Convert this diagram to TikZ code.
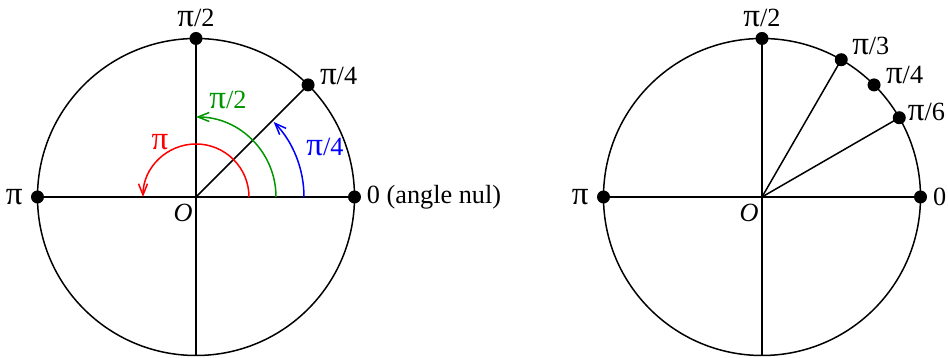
\documentclass[tikz,border=0pt]{standalone}
\usepackage{fontspec}
\setmainfont{Liberation Serif}
\usetikzlibrary{arrows.meta, positioning}
\definecolor{turnRed}{RGB}{255,0,0}
\definecolor{turnGreen}{RGB}{0,150,0}
\definecolor{turnBlue}{RGB}{0,0,255}
\newcommand{\gpi}{{\fontsize{13.2}{12}\selectfont π}}

\begin{document}
\begin{tikzpicture}[
    x=0.4pt, y=0.4pt,
    font=\fontsize{10.5}{12}\selectfont,
    dot/.style={circle, fill=black, minimum size=5.2pt, inner sep=0pt},
    axis/.style={line width=0.6pt},
    turn/.style={line width=0.6pt, -{Straight Barb[length=4.5pt, width=3.6pt]}},
    lab/.style={inner sep=1pt},
  ]
    \useasboundingbox (-196,-161) rectangle (752,197);

    % left circle
    \coordinate (O1) at (0,0);
    \draw[axis] (O1) circle[radius=158.5];
    \node[dot] (L0) at (0:158.5) {};
    \node[dot] (L45) at (45:158.5) {};
    \node[dot] (L90) at (90:158.5) {};
    \node[dot] (L180) at (180:158.5) {};
    \coordinate (L270) at (270:158.5);
    \draw[axis] (L180.center) -- (L0.center);
    \draw[axis] (L90.center) -- (L270);
    \draw[axis] (O1) -- (L45.center);

    \draw[turn, turnRed] (0:53) arc[start angle=0, end angle=180, radius=53];
    \draw[turn, turnGreen] (0:80) arc[start angle=0, end angle=90, radius=80];
    \draw[turn, turnBlue] (0:108) arc[start angle=0, end angle=44, radius=108];

    \node[lab, right=1pt of L0] (L0t) {0 (angle nul)};
    \node[lab, left=2pt of L180] (L180t) {\gpi};
    \node[lab, above=0.5pt of L90] (L90t) {\gpi/2};
    \node[lab, anchor=west] (L45t) at ([shift={(9,9)}]L45.center) {\gpi/4};
    \node[lab] (O1t) at (-13,-16) {\textit{O}};
    \node[lab, text=turnRed] (tRed) at (-36,55) {\gpi};
    \node[lab, text=turnGreen] (tGreen) at (32,97) {\gpi/2};
    \node[lab, text=turnBlue] (tBlue) at (129,50) {\gpi/4};

    % right circle
    \begin{scope}[shift={(566,0)}]
      \coordinate (O2) at (0,0);
      \draw[axis] (O2) circle[radius=158.5];
      \node[dot] (R0) at (0:158.5) {};
      \node[dot] (R30) at (30:158.5) {};
      \node[dot] (R45) at (45:158.5) {};
      \node[dot] (R60) at (60:158.5) {};
      \node[dot] (R90) at (90:158.5) {};
      \node[dot] (R180) at (180:158.5) {};
      \coordinate (R270) at (270:158.5);
      \draw[axis] (R180.center) -- (R0.center);
      \draw[axis] (R90.center) -- (R270);
      \draw[axis] (O2) -- (R60.center);
      \draw[axis] (O2) -- (R30.center);

      \node[lab, right=1pt of R0] (R0t) {0};
      \node[lab, left=2pt of R180] (R180t) {\gpi};
      \node[lab, above=0.5pt of R90] (R90t) {\gpi/2};
      \node[lab, anchor=west] (R60t) at ([shift={(8,14)}]R60.center) {\gpi/3};
      \node[lab, anchor=west] (R45t) at ([shift={(9,10)}]R45.center) {\gpi/4};
      \node[lab, anchor=east] (R30t) at (186,85) {\gpi/6};
      \node[lab] (O2t) at (-13,-16) {\textit{O}};
    \end{scope}
  \end{tikzpicture}
\end{document}
